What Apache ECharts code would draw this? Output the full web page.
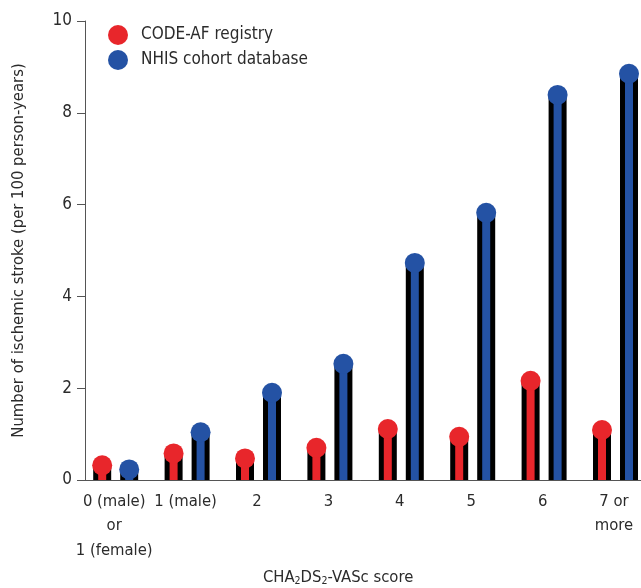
<!DOCTYPE html>
<html>
<head>
<meta charset="utf-8">
<script src="https://cdn.jsdelivr.net/npm/echarts@6/dist/echarts.min.js"></script>
<style>
  html, body { margin: 0; padding: 0; background: #fff; }
  #chart { width: 641px; height: 588px; }
</style>
</head>
<body>
<div id="chart"></div>
<script>
const categories = ['0 (male)\nor\n1 (female)', '1 (male)', '2', '3', '4', '5', '6', '7 or\nmore'];
const codeAF = [0.32, 0.58, 0.47, 0.70, 1.11, 0.94, 2.16, 1.09];
const nhis = [0.23, 1.04, 1.90, 2.53, 4.73, 5.82, 8.39, 8.85];
const seriesNames = ['CODE-AF registry', 'NHIS cohort database'];
const yTickValues = [0, 2, 4, 6, 8, 10];

const RED = '#e8262b';
const BLUE = '#2452a4';
const FONT = "'Liberation Sans Narrow', 'DejaVu Sans Condensed', 'Roboto', sans-serif";
const TEXT = '#2b2b2b';
const AXIS = '#555555';

function makeRender(offset, color) {
  return function (params, api) {
    const idx = api.value(0);
    const v = api.value(1);
    const top = api.coord([idx, v]);
    const base = api.coord([idx, 0]);
    const x = top[0] + offset;
    const blackW = 18, innerW = 8, r = 10;
    return {
      type: 'group',
      children: [
        { type: 'rect', shape: { x: x - blackW / 2, y: top[1], width: blackW, height: base[1] - top[1] }, style: { fill: '#000' } },
        { type: 'rect', shape: { x: x - innerW / 2, y: top[1], width: innerW, height: base[1] - top[1] }, style: { fill: color } },
        { type: 'circle', shape: { cx: x, cy: top[1], r: r }, style: { fill: color } }
      ]
    };
  };
}

const chart = echarts.init(document.getElementById('chart'), null, { renderer: 'canvas' });
chart.setOption({
  animation: false,
  backgroundColor: '#fff',
  textStyle: { fontFamily: FONT },
  grid: { left: 78.5, top: 21, width: 571.2, bottom: 108, containLabel: false, outerBoundsMode: 'none' },
  legend: {
    orient: 'vertical',
    left: 103,
    top: 20,
    icon: 'circle',
    itemWidth: 20,
    itemHeight: 20,
    itemGap: 5,
    textStyle: { fontFamily: FONT, fontSize: 17, color: TEXT, padding: [0, 0, 0, 8] },
    data: seriesNames
  },
  xAxis: {
    type: 'category',
    data: categories,
    boundaryGap: true,
    axisLine: { lineStyle: { color: AXIS, width: 1 } },
    axisTick: { alignWithLabel: true, length: 8, lineStyle: { color: AXIS } },
    axisLabel: { interval: 0, margin: 9, fontFamily: FONT, fontSize: 16.5, color: TEXT, lineHeight: 24.5 },
    name: 'CHA{sub|2}DS{sub|2}-VASc score',
    nameLocation: 'middle',
    nameGap: 88,
    nameTextStyle: {
      fontFamily: FONT, fontSize: 16.5, color: TEXT, padding: [0, 52, 0, 0],
      rich: { sub: { fontFamily: FONT, fontSize: 10.5, color: TEXT, verticalAlign: 'bottom', padding: [8, 0, 0, 0] } }
    }
  },
  yAxis: {
    type: 'value',
    min: 0,
    max: 10,
    interval: 2,
    offset: -6.5,
    splitLine: { show: false },
    axisLine: { show: true, lineStyle: { color: AXIS, width: 1 } },
    axisTick: { show: true, length: 8, lineStyle: { color: AXIS } },
    axisLabel: {
      margin: 13, fontFamily: FONT, fontSize: 17, color: TEXT,
      formatter: function (v) { return yTickValues.indexOf(v) >= 0 ? String(v) : ''; }
    },
    name: 'Number of ischemic stroke (per 100 person-years)',
    nameLocation: 'middle',
    nameGap: 58,
    nameTextStyle: { fontFamily: FONT, fontSize: 16.5, color: TEXT }
  },
  series: [
    {
      name: seriesNames[0],
      type: 'custom',
      itemStyle: { color: RED },
      renderItem: makeRender(-12, RED),
      encode: { x: 0, y: 1 },
      data: codeAF.map((v, i) => [i, v])
    },
    {
      name: seriesNames[1],
      type: 'custom',
      itemStyle: { color: BLUE },
      renderItem: makeRender(15, BLUE),
      encode: { x: 0, y: 1 },
      data: nhis.map((v, i) => [i, v])
    }
  ]
});
</script>
</body>
</html>
